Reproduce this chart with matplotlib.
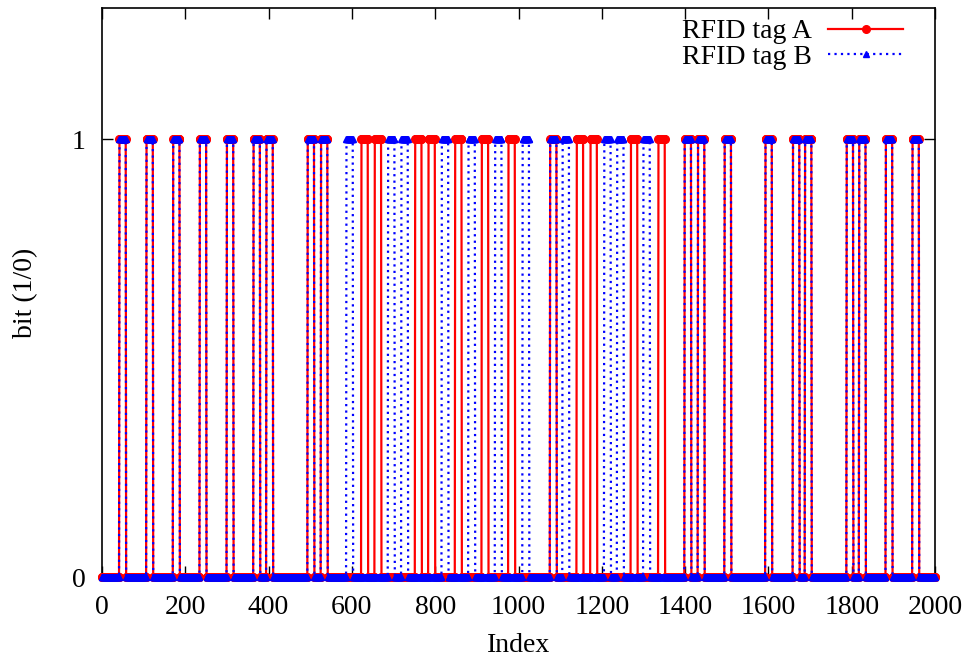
import numpy as np
import matplotlib
matplotlib.use("Agg")
import matplotlib.pyplot as plt

# ----------------------------
# Data: bit streams of two RFID tags
# ----------------------------

n_samples = 2001
pulse_len = 16

# start index of each "1" pulse
tag_a_starts = [42, 107, 171, 235, 300, 364, 395, 494, 526, 623, 655, 752, 784,
                848, 912, 976, 1076, 1140, 1173, 1270, 1336, 1399, 1431, 1495,
                1593, 1659, 1688, 1788, 1818, 1882, 1946]
tag_b_starts = [42, 107, 171, 235, 300, 364, 395, 494, 526, 587, 687, 719, 816,
                880, 944, 1010, 1076, 1106, 1206, 1237, 1300, 1399, 1431, 1495,
                1593, 1659, 1688, 1788, 1818, 1882, 1946]

x_ticks = [0, 200, 400, 600, 800, 1000, 1200, 1400, 1600, 1800, 2000]
y_ticks = [0, 1]

index = np.arange(n_samples)
tag_a = np.zeros(n_samples)
tag_b = np.zeros(n_samples)
for s in tag_a_starts:
    tag_a[s:s + pulse_len] = 1
for s in tag_b_starts:
    tag_b[s:s + pulse_len] = 1

# ----------------------------
# Plot
# ----------------------------

plt.rcParams["font.family"] = ["Liberation Serif", "DejaVu Serif"]
plt.rcParams["font.size"] = 20

fig = plt.figure(figsize=(9.73, 6.61), dpi=100)
ax = fig.add_axes([0.1048, 0.127, 0.8562, 0.861])

ax.plot(index, tag_a, color="#ff0000", lw=1.6, marker="o", markersize=5.5,
        label="RFID tag A", clip_on=False, zorder=3)
ax.plot(index, tag_b, color="#0000ff", lw=1.6, ls=(0, (1, 1.9)), marker="^",
        markersize=5, label="RFID tag B", clip_on=False, zorder=4)

ax.set_xlim(0, 2000)
ax.set_ylim(0, 1.3)
ax.set_xticks(x_ticks)
ax.set_yticks(y_ticks)
ax.tick_params(direction="in", top=True, right=True, length=8, width=1)
ax.tick_params(axis="x", pad=13)
ax.tick_params(axis="y", pad=12)
ax.set_xlabel("Index", labelpad=9)
ax.set_ylabel("bit (1/0)", labelpad=24)
for sp in ax.spines.values():
    sp.set_linewidth(1.2)

ax.legend(loc="upper right", bbox_to_anchor=(0.975, 1.0), borderaxespad=0,
          frameon=False, markerfirst=False, numpoints=1,
          handlelength=2.7, labelspacing=0.0, handletextpad=0.6)

plt.savefig("out.png", dpi=100)
